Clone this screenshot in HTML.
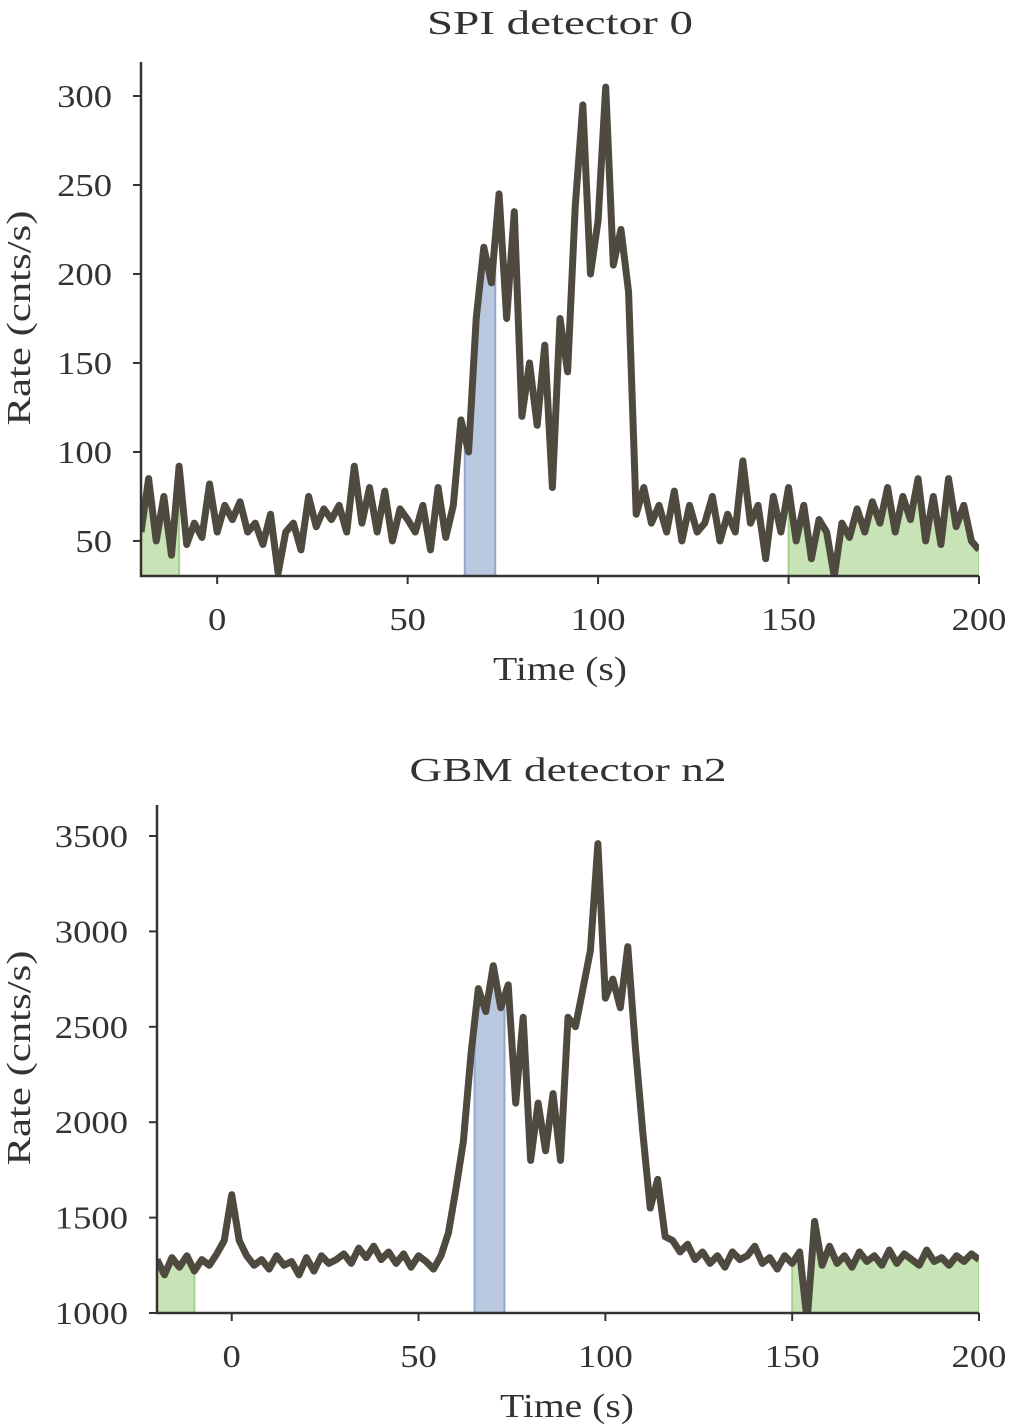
<!DOCTYPE html>
<html><head><meta charset="utf-8"><style>
body{margin:0;background:#fff}
svg{display:block}
text{font-family:"Liberation Serif",serif;fill:#333}
</style></head><body>
<svg id="svg" width="1030" height="1428" viewBox="0 0 1030 1428" xmlns="http://www.w3.org/2000/svg"></svg>
<script>
const spiRates=[55,85,50,75,42,92,48,60,52,82,55,70,62,72,55,60,48,65,32,55,60,45,75,58,68,62,70,55,92,60,80,55,78,50,68,62,55,70,45,80,52,70,118,100,175,215,195,245,175,235,120,150,115,160,80,175,145,238,295,200,230,305,205,225,190,65,80,60,70,55,78,50,70,55,60,75,50,65,55,95,60,70,40,75,55,80,50,70,40,62,55,30,60,52,68,55,72,60,80,55,75,62,85,50,75,48,85,58,70,50,45];
const gbmRates=[1280,1200,1290,1240,1300,1220,1280,1250,1310,1380,1620,1380,1300,1250,1280,1230,1300,1250,1270,1200,1290,1220,1300,1260,1280,1310,1260,1340,1290,1350,1280,1320,1260,1310,1240,1300,1270,1230,1300,1420,1650,1900,2350,2700,2580,2820,2600,2720,2100,2550,1800,2100,1850,2150,1800,2550,2500,2700,2900,3460,2650,2750,2600,2920,2400,1950,1550,1700,1400,1380,1320,1360,1280,1320,1260,1300,1240,1320,1280,1300,1350,1260,1290,1230,1300,1260,1320,960,1480,1250,1350,1260,1300,1240,1320,1270,1300,1250,1330,1260,1310,1280,1250,1330,1270,1290,1250,1300,1270,1310,1280];
const tStart=-20, tStep=2;
const bkgIntervals=[[-20,-10],[150,200]];
const srcInterval=[65,73];
const xTicks=[0,50,100,150,200];
const spiYTicks=[50,100,150,200,250,300];
const gbmYTicks=[1000,1500,2000,2500,3000,3500];

const NS='http://www.w3.org/2000/svg';
const svg=document.getElementById('svg');
function mk(tag,attrs,parent){const e=document.createElementNS(NS,tag);for(const k in attrs)e.setAttribute(k,attrs[k]);(parent||svg).appendChild(e);return e;}
const DW=18.3;
function panel(id,title,rates,yTicks,P){
  const g=mk('g',{});
  
  
  const X=t=>P.x0+(t-P.t0)/(P.t1-P.t0)*(P.x1-P.x0);
  const Y=v=>P.yb+(v-P.v0)/(P.v1-P.v0)*(P.ya-P.yb);
  const times=rates.map((_,i)=>tStart+i*tStep);
  const clip=mk('clipPath',{id:'c'+id},g);
  mk('rect',{x:P.x0,y:P.ya-40,width:P.x1-P.x0,height:P.yb-P.ya+40},clip);
  const inner=mk('g',{'clip-path':'url(#c'+id+')'},g);
  function fillInt(a,b,fill,stroke,name){
    let pts=[[X(a),P.yb]];
    const interp=t=>{let i=Math.min(Math.floor((t-tStart)/tStep),rates.length-2);i=Math.max(i,0);const f=(t-times[i])/tStep;return rates[i]+(rates[i+1]-rates[i])*f;};
    pts.push([X(a),Y(interp(a))]);
    times.forEach((t,i)=>{if(t>a&&t<b)pts.push([X(t),Y(rates[i])]);});
    pts.push([X(b),Y(interp(b))]);pts.push([X(b),P.yb]);
    const p=mk('polygon',{points:pts.map(q=>q.join(',')).join(' '),fill:fill,stroke:stroke,'stroke-width':2},inner);
    
    
  }
  bkgIntervals.forEach((iv,k)=>fillInt(iv[0],iv[1],'#c8e3b5','#a3d38a','background-interval-'+k));
  fillInt(srcInterval[0],srcInterval[1],'#b9c7df','#93a7cf','source-interval');
  const line=mk('polyline',{points:times.map((t,i)=>X(t)+','+Y(rates[i])).join(' '),fill:'none',stroke:'#4f4a3f','stroke-width':7,'stroke-linejoin':'round'},inner);
  
  
  const ax=mk('path',{d:`M${P.x0},${P.ytop}V${P.yb}H${P.x1}`,stroke:'#333','stroke-width':2.5,fill:'none'},g);
  
  
  xTicks.forEach(t=>{
    mk('line',{x1:X(t),x2:X(t),y1:P.yb,y2:P.yb+8,stroke:'#333','stroke-width':2},g);
    const s=String(t);
    const tx=mk('text',{x:X(t),y:P.yb+54,'text-anchor':'middle','font-size':32,textLength:s.length*DW,lengthAdjust:'spacingAndGlyphs'},g);
    tx.textContent=s;
    
    
  });
  yTicks.forEach(v=>{
    mk('line',{x1:P.x0-8,x2:P.x0,y1:Y(v),y2:Y(v),stroke:'#333','stroke-width':2},g);
    const s=String(v);
    const tx=mk('text',{x:P.x0-P.lblOff,y:Y(v)+11,'text-anchor':'end','font-size':32,textLength:s.length*DW,lengthAdjust:'spacingAndGlyphs'},g);
    tx.textContent=s;
    
    
  });
  const tt=mk('text',{x:P.tcx,y:P.ytitle,'text-anchor':'middle','font-size':34,textLength:P.tw,lengthAdjust:'spacingAndGlyphs'},g);
  tt.textContent=title;
  
  
  const xl=mk('text',{x:P.xlx,y:P.yb+104,'text-anchor':'middle','font-size':34,textLength:134,lengthAdjust:'spacingAndGlyphs'},g);
  xl.textContent='Time (s)';
  
  
  const cy=P.ylc;
  const yl=mk('text',{x:30,y:cy,'text-anchor':'middle','font-size':34,textLength:215,lengthAdjust:'spacingAndGlyphs',transform:`rotate(-90 30 ${cy})`},g);
  yl.textContent='Rate (cnts/s)';
  
  
}
panel('spi','SPI detector 0',spiRates,spiYTicks,{x0:141,x1:979,t0:-20,t1:200,yb:576,ya:96,v0:30.3,v1:300,ytop:62,ytitle:34,lblOff:29,tcx:560,tw:266,xlx:560,ylc:318});
panel('gbm','GBM detector n2',gbmRates,gbmYTicks,{x0:157,x1:979,t0:-20,t1:200,yb:1313,ya:836,v0:1000,v1:3500,ytop:805,ytitle:781,lblOff:29,tcx:568,tw:317,xlx:567,ylc:1058});
</script>
</body></html>
